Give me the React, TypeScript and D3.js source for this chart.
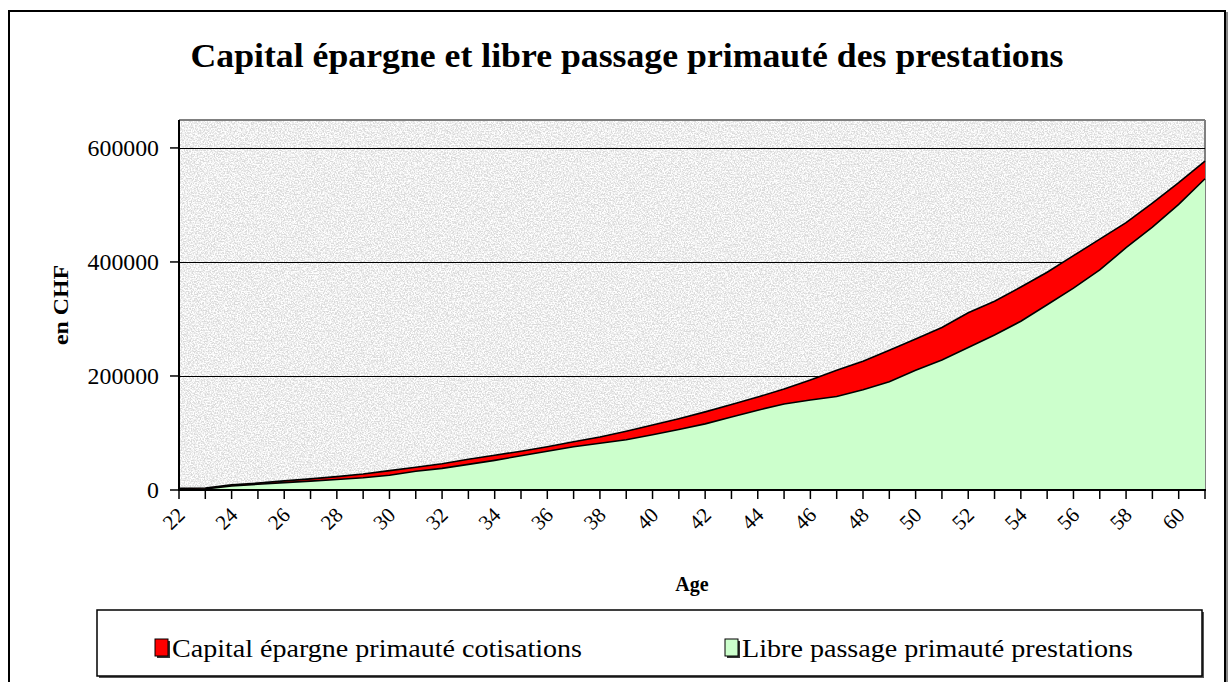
import * as d3 from 'd3';

// Age categories (x axis)
const ages = [22, 23, 24, 25, 26, 27, 28, 29, 30, 31, 32, 33, 34, 35, 36, 37, 38, 39, 40, 41,
  42, 43, 44, 45, 46, 47, 48, 49, 50, 51, 52, 53, 54, 55, 56, 57, 58, 59, 60, 61];

// Capital épargne primauté cotisations (CHF)
const capital = [3000, 3500, 9000, 12000, 16000, 19500, 23500, 28000, 34000, 40000,
  46000, 54000, 61000, 68000, 76000, 84500, 93000, 103000, 114000, 125000,
  137000, 150000, 163000, 177000, 193000, 210000, 226000, 245000, 265000, 285000,
  311000, 331000, 356000, 382000, 411000, 440000, 469000, 503000, 539000, 577000];

// Libre passage primauté prestations (CHF)
const libre = [1500, 2000, 7000, 10000, 13000, 15500, 18500, 21500, 26000, 33000,
  38000, 45000, 52000, 60000, 68000, 76000, 82000, 88000, 97000, 106000,
  116000, 128000, 140000, 151000, 158000, 164000, 176000, 190000, 210000, 228000,
  250000, 272000, 296000, 325000, 354000, 386000, 425000, 461000, 501000, 546000];

const yTicks = [0, 200000, 400000, 600000];
const labelAges = ages.filter((a) => a % 2 === 0);

const W = 1228;
const H = 682;
const plot = { left: 179, right: 1205, top: 120, bottom: 490 };
const serif = '"Liberation Serif", "Times New Roman", serif';

export default function App() {
  const x = d3.scaleLinear().domain([22, 61]).range([plot.left, plot.right]);
  const y = d3.scaleLinear().domain([0, 649000]).range([plot.bottom, plot.top]);

  const area = d3.area<number>()
    .x((_, i) => x(ages[i]))
    .y0(y(0))
    .y1((d) => y(d));
  const line = d3.line<number>()
    .x((_, i) => x(ages[i]))
    .y((d) => y(d));

  return (
    <svg width={W} height={H} style={{ position: 'absolute', left: 0, top: 0, background: '#fff' }}
      fontFamily={serif}>
      <defs>
        {/* granite-like texture for the plot background */}
        <filter id="granite" x="0" y="0" width="100%" height="100%">
          <feTurbulence type="fractalNoise" baseFrequency="0.7" numOctaves="3" seed="7" result="n" />
          <feColorMatrix type="matrix" in="n"
            values="0 0 0 0 1  0 0 0 0 1  0 0 0 0 1  3.2 0 0 0 -1.05" />
        </filter>
      </defs>

      {/* outer chart frame */}
      <rect x={11} y={13} width={1216} height={700} fill="none" stroke="#888" strokeWidth={2} />
      <rect x={9} y={11} width={1216} height={700} fill="#fff" stroke="#000" strokeWidth={2} />

      <text x={627} y={67} textAnchor="middle" fontSize={34} fontWeight="bold"
        textLength={873} lengthAdjust="spacingAndGlyphs">
        Capital épargne et libre passage primauté des prestations
      </text>

      {/* plot background */}
      <rect x={plot.left} y={plot.top} width={plot.right - plot.left} height={plot.bottom - plot.top}
        fill="#d9d9d9" />
      <rect x={plot.left} y={plot.top} width={plot.right - plot.left} height={plot.bottom - plot.top}
        fill="#fff" filter="url(#granite)" />
      <line x1={plot.left} x2={plot.right} y1={plot.top} y2={plot.top} stroke="#808080" strokeWidth={2} />
      <line x1={plot.right} x2={plot.right} y1={plot.top} y2={plot.bottom} stroke="#808080" strokeWidth={2} />

      {/* gridlines */}
      {yTicks.filter((t) => t > 0).map((t) => (
        <line key={t} x1={plot.left} x2={plot.right} y1={Math.round(y(t)) + 0.5} y2={Math.round(y(t)) + 0.5}
          stroke="#000" strokeWidth={1} />
      ))}

      {/* areas */}
      <path d={area(capital) ?? ''} fill="#ff0000" />
      <path d={line(capital) ?? ''} fill="none" stroke="#000" strokeWidth={1.6} />
      <path d={area(libre) ?? ''} fill="#ccffcc" />
      <path d={line(libre) ?? ''} fill="none" stroke="#000" strokeWidth={1.6} />

      {/* y axis */}
      <line x1={plot.left} x2={plot.left} y1={plot.top} y2={plot.bottom} stroke="#000" strokeWidth={2} />
      {yTicks.map((t) => (
        <g key={t}>
          <line x1={170} x2={plot.left} y1={y(t)} y2={y(t)} stroke="#000" strokeWidth={1.5} />
          <text x={159} y={y(t)} dy="0.35em" textAnchor="end" fontSize={24}
            textLength={String(t).length * 11.9} lengthAdjust="spacingAndGlyphs">{t}</text>
        </g>
      ))}
      <text transform={`translate(68,${(plot.top + plot.bottom) / 2}) rotate(-90)`} textAnchor="middle"
        fontSize={22} fontWeight="bold" textLength={80} lengthAdjust="spacingAndGlyphs">en CHF</text>

      {/* x axis */}
      <line x1={plot.left - 1} x2={plot.right + 1} y1={plot.bottom} y2={plot.bottom} stroke="#000" strokeWidth={2} />
      {ages.map((a) => (
        <line key={a} x1={x(a)} x2={x(a)} y1={plot.bottom} y2={plot.bottom + 9} stroke="#000" strokeWidth={1.5} />
      ))}
      {labelAges.map((a) => (
        <text key={a} transform={`translate(${x(a) + 2},${plot.bottom + 21}) rotate(-45)`}
          textAnchor="end" dy="0.35em" fontSize={21}>{a}</text>
      ))}
      <text x={(plot.left + plot.right) / 2} y={591} textAnchor="middle" fontSize={20} fontWeight="bold">Age</text>

      {/* legend */}
      <rect x={99} y={612} width={1105} height={66} fill="#555" />
      <rect x={97} y={610} width={1105} height={66} fill="#fff" stroke="#000" strokeWidth={1.5} />
      <rect x={157} y={641} width={13} height={17} fill="#333" />
      <rect x={155} y={639} width={13} height={17} fill="#ff0000" stroke="#000" strokeWidth={1} />
      <text x={172} y={657} fontSize={26} textLength={410} lengthAdjust="spacingAndGlyphs">
        Capital épargne primauté cotisations
      </text>
      <rect x={727} y={641} width={13} height={17} fill="#333" />
      <rect x={725} y={639} width={13} height={17} fill="#ccffcc" stroke="#000" strokeWidth={1} />
      <text x={742} y={657} fontSize={26} textLength={391} lengthAdjust="spacingAndGlyphs">
        Libre passage primauté prestations
      </text>
    </svg>
  );
}
